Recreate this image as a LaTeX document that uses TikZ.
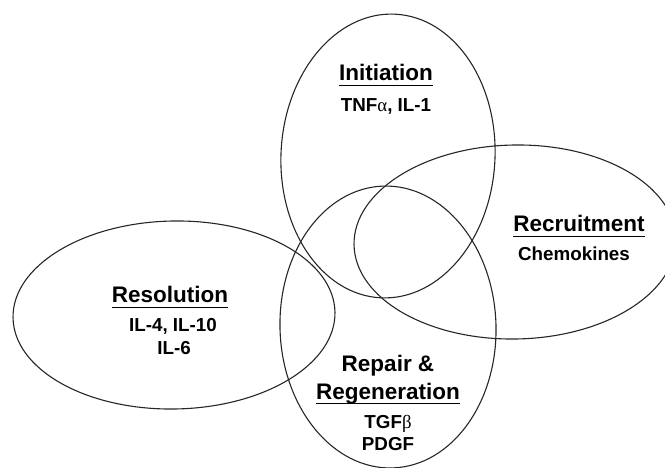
\documentclass[tikz,border=0pt]{standalone}
\usepackage{fontspec}
\setmainfont{Liberation Sans}
\newfontfamily\grk{Liberation Serif}
\newsavebox\hdbox
\newcommand\hdul[1]{\sbox\hdbox{#1}\leavevmode\rlap{\rule[-5.5pt]{\wd\hdbox}{1.5pt}}\usebox\hdbox}
\tikzset{
  ring/.style={draw=black!85, line width=1.1pt},
  hd/.style={anchor=base, inner sep=0pt, font=\fontsize{22.5}{27}\selectfont\bfseries},
  sub/.style={anchor=base, inner sep=0pt, font=\fontsize{18.8}{22}\selectfont\bfseries},
}
\begin{document}
\begin{tikzpicture}[x=1pt,y=1pt]
\useasboundingbox (0,0) rectangle (665,-468);
\clip (0,0) rectangle (665,-468);
% ellipses
\draw[ring, rotate around={-3:(388,-156)}] (388,-156) ellipse [x radius=107, y radius=142];
\draw[ring, rotate around={2:(388,-327)}] (388,-327) ellipse [x radius=108, y radius=141];
\draw[ring, rotate around={1:(515,-242)}] (515,-242) ellipse [x radius=161, y radius=97];
\draw[ring, rotate around={1:(174,-315)}] (174,-315) ellipse [x radius=161, y radius=94];
% Initiation
\node[hd]  (inith) at (386,-81)  {\hdul{Initiation}};
\node[sub] (inits) at (386,-112) {TNF{\grk\mdseries α}, IL-1};
% Recruitment
\node[hd]  (recrh) at (579,-232) {\hdul{Recruitment}};
\node[sub] (recrs) at (574,-261) {Chemokines};
% Resolution
\node[hd]  (resoh) at (170,-303) {\hdul{Resolution}};
\node[sub] (resoa) at (173,-331) {IL-4, IL-10};
\node[sub] (resob) at (174,-355) {IL-6};
% Repair
\node[hd]  (repa) at (388,-371) {Repair \&};
\node[hd]  (repb) at (388,-399) {\hdul{Regeneration}};
\node[sub] (repc) at (388,-428) {TGF{\grk\mdseries β}};
\node[sub] (repd) at (388,-450) {PDGF};
\end{tikzpicture}
\end{document}
